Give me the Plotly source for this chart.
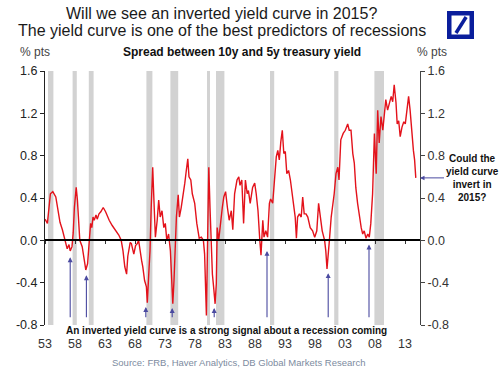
import plotly.graph_objects as go

# ---------------- data ----------------
years = [1953.0, 1953.4, 1953.9, 1954.3, 1954.8, 1955.2, 1955.5, 1955.9, 1956.3, 1956.7,
         1957.0, 1957.2, 1957.5, 1957.7, 1957.9, 1958.2, 1958.4, 1958.6, 1958.8, 1959.2,
         1959.5, 1959.8, 1960.1, 1960.3, 1960.6, 1960.8, 1961.0, 1961.2, 1961.5, 1961.7,
         1962.0, 1962.3, 1962.7, 1963.1, 1963.4, 1963.7, 1964.2, 1964.8, 1965.3, 1965.7,
         1966.0, 1966.3, 1966.6, 1966.8, 1967.0, 1967.2, 1967.4, 1967.6, 1967.8, 1968.1,
         1968.4, 1968.6, 1968.8, 1969.1, 1969.3, 1969.6, 1969.9, 1970.05, 1970.3, 1970.5,
         1970.7, 1970.95, 1971.2, 1971.4, 1971.7, 1971.95, 1972.2, 1972.5, 1972.8, 1973.05,
         1973.3, 1973.6, 1973.9, 1974.05, 1974.3, 1974.5, 1974.7, 1974.9, 1975.2, 1975.4,
         1975.7, 1976.0, 1976.3, 1976.55, 1976.8, 1977.0, 1977.3, 1977.55, 1977.95, 1978.3,
         1978.7, 1979.05, 1979.4, 1979.6, 1979.9, 1980.1, 1980.3, 1980.5, 1980.7, 1980.9,
         1981.1, 1981.35, 1981.55, 1981.7, 1981.95, 1982.3, 1982.55, 1982.8, 1983.1, 1983.4,
         1983.7, 1984.05, 1984.3, 1984.6, 1985.0, 1985.3, 1985.5, 1985.8, 1986.1, 1986.4,
         1986.7, 1986.9, 1987.2, 1987.6, 1987.95, 1988.2, 1988.5, 1988.8, 1989.0, 1989.3,
         1989.5, 1989.8, 1990.1, 1990.4, 1990.6, 1990.95, 1991.3, 1991.55, 1991.8, 1992.05,
         1992.3, 1992.55, 1992.8, 1993.05, 1993.3, 1993.6, 1993.9, 1994.2, 1994.45, 1994.7,
         1994.9, 1995.1, 1995.4, 1995.7, 1995.95, 1996.2, 1996.5, 1996.8, 1997.2, 1997.6,
         1997.95, 1998.3, 1998.6, 1998.9, 1999.2, 1999.6, 1999.8, 2000.0, 2000.2, 2000.4,
         2000.7, 2001.0, 2001.2, 2001.5, 2001.8, 2002.0, 2002.3, 2002.7, 2003.05, 2003.45,
         2003.7, 2004.0, 2004.3, 2004.55, 2004.8, 2005.1, 2005.4, 2005.7, 2005.95, 2006.2,
         2006.5, 2006.8, 2007.05, 2007.3, 2007.6, 2007.9, 2008.2, 2008.45, 2008.7, 2009.0,
         2009.3, 2009.5, 2009.8, 2010.1, 2010.4, 2010.7, 2010.95, 2011.2, 2011.5, 2011.7,
         2011.95, 2012.2, 2012.5, 2012.8, 2013.05, 2013.35, 2013.6, 2013.85, 2014.1, 2014.4,
         2014.6, 2014.8]
spread = [0.20, 0.16, 0.44, 0.46, 0.41, 0.25, 0.17, 0.10, 0.00, -0.08,
          -0.04, -0.10, -0.06, 0.07, 0.31, 0.50, 0.38, 0.12, 0.00, -0.06,
          -0.19, -0.28, -0.22, -0.06, 0.16, 0.12, 0.22, 0.19, 0.24, 0.20,
          0.25, 0.27, 0.31, 0.27, 0.22, 0.19, 0.14, 0.09, 0.05, 0.00,
          -0.10, -0.25, -0.32, -0.15, -0.10, -0.02, -0.03, -0.08, -0.13, -0.05,
          -0.03, 0.00, -0.10, -0.19, -0.25, -0.38, -0.44, -0.59, -0.31, -0.10,
          0.31, 0.69, 0.31, 0.03, 0.19, 0.38, 0.22, 0.28, 0.12, 0.16,
          0.00, 0.06, -0.10, -0.32, -0.60, -0.38, 0.00, 0.22, 0.43, 0.22,
          0.31, 0.41, 0.54, 0.66, 0.77, 0.60, 0.57, 0.44, 0.35, 0.16,
          0.02, 0.03, 0.00, -0.13, -0.71, 0.00, 0.69, 0.31, -0.10, -0.32,
          -0.44, -0.60, -0.41, 0.12, 0.00, 0.22, 0.31, 0.41, 0.46, 0.31,
          0.19, 0.28, 0.10, 0.44, 0.57, 0.60, 0.52, 0.57, 0.16, 0.57,
          0.44, 0.47, 0.35, 0.50, 0.54, 0.44, 0.28, 0.00, -0.14, 0.19,
          0.03, 0.09, 0.03, 0.35, 0.39, 0.35, 0.63, 0.79, 0.85, 0.76,
          0.93, 1.04, 0.82, 0.84, 0.63, 0.66, 0.57, 0.44, 0.35, 0.22,
          0.02, 0.22, 0.25, 0.22, 0.41, 0.25, 0.25, 0.22, 0.12, 0.09,
          0.03, 0.09, 0.35, 0.22, 0.09, 0.00, -0.10, -0.27, -0.16, 0.00,
          0.22, 0.35, 0.44, 0.63, 0.69, 0.57, 0.95, 1.01, 1.04, 1.10,
          1.04, 1.04, 0.82, 0.73, 0.50, 0.35, 0.22, 0.12, 0.06, 0.09,
          0.02, 0.06, 0.03, 0.16, 0.44, 1.01, 0.63, 1.23, 0.92, 1.17,
          1.04, 1.17, 1.33, 1.23, 1.29, 1.36, 1.31, 1.47, 1.30, 1.10,
          1.13, 0.98, 1.07, 1.12, 1.10, 1.23, 1.36, 1.23, 1.01, 0.85,
          0.76, 0.59]

recession_start = [1953.5, 1957.6, 1960.3, 1969.9, 1973.9, 1980.0, 1981.5, 1990.5, 2001.2, 2007.9]
recession_end = [1954.4, 1958.3, 1961.1, 1970.9, 1975.2, 1980.5, 1982.9, 1991.2, 2001.9, 2009.5]

arrow_years = [1957.2, 1959.9, 1969.8, 1974.2, 1981.2, 1990.0, 2000.2, 2007.0]
arrow_tips = [-0.16, -0.33, -0.63, -0.64, -0.64, -0.10, -0.31, -0.04]
arrow_base = -0.74

x_ticks = [1953, 1958, 1963, 1968, 1973, 1978, 1983, 1988, 1993, 1998, 2003, 2008, 2013]
x_tick_labels = ["53", "58", "63", "68", "73", "78", "83", "88", "93", "98", "03", "08", "13"]
y_ticks = [-0.8, -0.4, 0.0, 0.4, 0.8, 1.2, 1.6]
y_tick_labels = ["-0.8", "-0.4", "0.0", "0.4", "0.8", "1.2", "1.6"]

X_RANGE = [1953, 2015.5]
Y_RANGE = [-0.8, 1.6]

FONT = "Arial, Liberation Sans, sans-serif"
RED = "#e3121b"
ARROW = "#4a4aa0"
DB_BLUE = "#0a1e9c"

fig = go.Figure()

# recession bars
for s, e in zip(recession_start, recession_end):
    fig.add_shape(type="rect", xref="x", yref="y", x0=s, x1=e, y0=Y_RANGE[0], y1=Y_RANGE[1],
                  fillcolor="#d2d2d2", line_width=0, layer="below")

fig.add_trace(go.Scatter(x=years, y=spread, mode="lines",
                         line=dict(color=RED, width=1.4), showlegend=False, hoverinfo="skip"))
# helper traces so the extra axes are drawn
fig.add_trace(go.Scatter(x=[X_RANGE[0]], y=[0], xaxis="x2", yaxis="y", mode="markers",
                         marker=dict(opacity=0), showlegend=False, hoverinfo="skip"))
fig.add_trace(go.Scatter(x=[X_RANGE[0]], y=[0], xaxis="x", yaxis="y2", mode="markers",
                         marker=dict(opacity=0), showlegend=False, hoverinfo="skip"))

zero_pos = (0 - Y_RANGE[0]) / (Y_RANGE[1] - Y_RANGE[0])

fig.update_layout(
    width=500, height=371,
    margin=dict(l=45, r=80, t=71, b=46),
    paper_bgcolor="white", plot_bgcolor="white",
    font=dict(family=FONT, color="#222222", size=12),
    showlegend=False,
    xaxis=dict(range=X_RANGE, tickvals=x_ticks, ticktext=x_tick_labels, showgrid=False,
               zeroline=False, showline=False, ticks="", ticklabelstandoff=9,
               tickfont=dict(size=12.5, color="#333333")),
    xaxis2=dict(matches="x", overlaying="x", anchor="free", position=zero_pos,
                tickvals=x_ticks, showticklabels=False, showgrid=False, zeroline=False,
                showline=True, linecolor="black", linewidth=1.5,
                ticks="outside", ticklen=3, tickcolor="#333333", tickwidth=1),
    yaxis=dict(range=Y_RANGE, tickvals=y_ticks, ticktext=y_tick_labels, showgrid=False,
               zeroline=False, showline=True, linecolor="#222222", linewidth=1,
               ticks="outside", ticklen=4, tickcolor="#222222",
               tickfont=dict(size=12.5, color="#222222")),
    yaxis2=dict(matches="y", overlaying="y", side="right", tickvals=y_ticks,
                ticktext=y_tick_labels, showgrid=False, zeroline=False, showline=True,
                linecolor="#444444", linewidth=1, ticks="outside", ticklen=4,
                tickcolor="#444444", tickfont=dict(size=12.5, color="#333333")),
)

ann = []
# titles
ann.append(dict(text="Will we see an inverted yield curve in 2015?", xref="paper", yref="paper",
                x=0.4707, y=1.228, xanchor="center", yanchor="middle", showarrow=False,
                font=dict(size=16, color="#1a1a1a")))
ann.append(dict(text="The yield curve is one of the best predictors of recessions", xref="paper",
                yref="paper", x=0.472, y=1.159, xanchor="center", yanchor="middle", showarrow=False,
                font=dict(size=16, color="#1a1a1a")))
ann.append(dict(text="<b>Spread between 10y and 5y treasury yield</b>", xref="paper", yref="paper",
                x=0.525, y=1.075, xanchor="center", yanchor="middle", showarrow=False,
                font=dict(size=12, color="#111111")))
ann.append(dict(text="% pts", xref="paper", yref="paper", x=-0.027, y=1.075, xanchor="center",
                yanchor="middle", showarrow=False, font=dict(size=12, color="#444444")))
ann.append(dict(text="% pts", xref="paper", yref="paper", x=1.032, y=1.075, xanchor="center",
                yanchor="middle", showarrow=False, font=dict(size=12, color="#444444")))
# arrows marking inversions
for yr, tip in zip(arrow_years, arrow_tips):
    ann.append(dict(text="", x=yr, y=tip, xref="x", yref="y", ax=yr, ay=arrow_base,
                    axref="x", ayref="y", showarrow=True, arrowhead=2, arrowsize=0.9,
                    arrowwidth=1.1, arrowcolor=ARROW, standoff=0))
ann.append(dict(text="<b>An inverted yield curve is a strong signal about a recession coming</b>",
                xref="paper", yref="paper", x=0.483, y=-0.02, xanchor="center", yanchor="middle",
                showarrow=False, font=dict(size=10, color="#111111")))
ann.append(dict(text="Source: FRB, Haver Analytics, DB Global Markets Research", xref="paper",
                yref="paper", x=0.516, y=-0.146, xanchor="center", yanchor="middle",
                showarrow=False, font=dict(size=9.5, color="#7d8ba0")))
# right-hand question with arrow to last value
ann.append(dict(text="<b>Could the<br>yield curve<br>invert in<br>2015?</b>", xref="paper", yref="y",
                x=1.0, y=spread[-1], ax=52, ay=0, showarrow=True, arrowhead=2, arrowsize=0.9,
                arrowwidth=1, arrowcolor=ARROW, standoff=0, align="center",
                font=dict(size=10, color="#111111")))
fig.update_layout(annotations=ann)

# DB logo
fig.add_shape(type="rect", xref="paper", yref="paper", x0=1.078, x1=1.138, y0=1.1348, y1=1.2274,
              line=dict(color=DB_BLUE, width=4.5), fillcolor="white")
fig.add_shape(type="line", xref="paper", yref="paper", x0=1.096, y0=1.1496, x1=1.123, y1=1.2126,
              line=dict(color=DB_BLUE, width=3.5))

fig.write_html("out.html", config={"displayModeBar": False},
               post_script="document.body.style.margin='0';document.body.style.overflow='hidden';")
